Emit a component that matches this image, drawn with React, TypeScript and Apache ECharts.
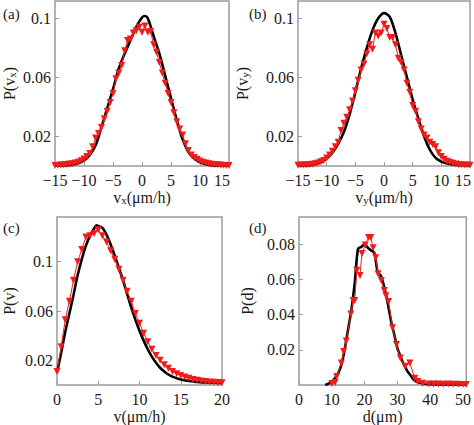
import React, { useEffect, useRef } from "react";
import * as echarts from "echarts";

// ---------- Panel (a): P(vx) ----------
const aBlackX = [-15, -14, -13, -12, -11, -10, -9, -8, -7, -6, -5, -4, -3, -2, -1, 0, 0.5, 1, 2, 3, 4, 5, 6, 7, 8, 9, 10, 11, 12, 13, 14, 15];
const aBlackY = [0.0002, 0.0003, 0.0005, 0.0008, 0.0018, 0.0038, 0.0075, 0.014, 0.026, 0.039, 0.052, 0.066, 0.076, 0.085, 0.094, 0.1005, 0.1015, 0.1, 0.088, 0.076, 0.061, 0.046, 0.031, 0.018, 0.0095, 0.005, 0.0025, 0.0012, 0.0006, 0.0004, 0.0003, 0.0002];
const aRedX = [-15, -14.5, -14, -13.5, -13, -12.5, -12, -11.5, -11, -10.5, -10, -9.5, -9, -8.5, -8, -7.5, -7, -6.5, -6, -5.5, -5, -4.5, -4, -3.5, -3, -2.5, -2, -1.5, -1, -0.5, 0, 0.5, 1, 1.5, 2, 2.5, 3, 3.5, 4, 4.5, 5, 5.5, 6, 6.5, 7, 7.5, 8, 8.5, 9, 9.5, 10, 10.5, 11, 11.5, 12, 12.5, 13, 13.5, 14, 14.5, 15];
const aRedY = [0.0004, 0.0005, 0.0006, 0.0008, 0.001, 0.0013, 0.0016, 0.002, 0.0026, 0.0035, 0.0048, 0.0065, 0.0085, 0.013, 0.019, 0.022, 0.026, 0.032, 0.037, 0.043, 0.049, 0.059, 0.063, 0.068, 0.078, 0.085, 0.086, 0.09, 0.0915, 0.094, 0.0905, 0.0948, 0.0905, 0.091, 0.082, 0.077, 0.07, 0.063, 0.056, 0.049, 0.043, 0.036, 0.03, 0.025, 0.021, 0.015, 0.0105, 0.0075, 0.0058, 0.0045, 0.0034, 0.0026, 0.002, 0.0016, 0.0012, 0.001, 0.0008, 0.0006, 0.0005, 0.0004, 0.0004];

// ---------- Panel (b): P(vy) ----------
const bBlackX = [-15, -14, -13, -12, -11, -10, -9, -8, -7, -6, -5, -4, -3, -2, -1, 0, 1, 2, 3, 4, 5, 6, 7, 8, 9, 10, 11, 12, 13, 14, 15];
const bBlackY = [0.0002, 0.0003, 0.0006, 0.0012, 0.0025, 0.005, 0.009, 0.015, 0.023, 0.035, 0.05, 0.066, 0.08, 0.092, 0.1, 0.1035, 0.101, 0.09, 0.075, 0.06, 0.045, 0.032, 0.02, 0.011, 0.0055, 0.003, 0.0017, 0.001, 0.0006, 0.0004, 0.0002];
const bRedX = aRedX;
const bRedY = [0.0005, 0.0006, 0.0007, 0.0009, 0.001, 0.0012, 0.0015, 0.002, 0.0028, 0.0038, 0.0055, 0.0075, 0.01, 0.013, 0.016, 0.024, 0.029, 0.033, 0.038, 0.044, 0.051, 0.058, 0.065, 0.069, 0.076, 0.082, 0.079, 0.09, 0.088, 0.09, 0.096, 0.093, 0.087, 0.087, 0.082, 0.073, 0.07, 0.065, 0.056, 0.05, 0.041, 0.037, 0.03, 0.025, 0.021, 0.019, 0.016, 0.0145, 0.013, 0.009, 0.0065, 0.0045, 0.0033, 0.0025, 0.0018, 0.0013, 0.001, 0.0008, 0.0007, 0.0006, 0.0005];

// ---------- Panel (c): P(v) ----------
const cBlackX = [0, 0.5, 1, 1.5, 2, 2.5, 3, 3.5, 4, 4.5, 4.8, 5, 5.5, 6, 6.5, 7, 7.5, 8, 8.5, 9, 9.5, 10, 10.5, 11, 11.5, 12, 12.5, 13, 13.5, 14, 15, 16, 17, 18, 19, 20];
const cBlackY = [0.01, 0.026, 0.043, 0.058, 0.073, 0.089, 0.102, 0.113, 0.121, 0.127, 0.1295, 0.129, 0.1275, 0.122, 0.114, 0.105, 0.095, 0.085, 0.074, 0.063, 0.053, 0.044, 0.036, 0.029, 0.023, 0.018, 0.014, 0.011, 0.0085, 0.0068, 0.0045, 0.0032, 0.0025, 0.002, 0.0018, 0.0017];
const cRedX = [0, 0.5, 1, 1.5, 2, 2.5, 3, 3.5, 4, 4.5, 5, 5.5, 6, 6.5, 7, 7.5, 8, 8.5, 9, 9.5, 10, 10.5, 11, 11.5, 12, 12.5, 13, 13.5, 14, 14.5, 15, 15.5, 16, 16.5, 17, 17.5, 18, 18.5, 19, 19.5, 20];
const cRedY = [0.011, 0.031, 0.053, 0.068, 0.085, 0.1, 0.11, 0.12, 0.121, 0.123, 0.126, 0.121, 0.116, 0.109, 0.102, 0.094, 0.085, 0.076, 0.068, 0.058, 0.05, 0.042, 0.035, 0.029, 0.024, 0.02, 0.0165, 0.0135, 0.011, 0.0092, 0.0078, 0.0065, 0.0054, 0.0045, 0.0038, 0.0033, 0.0028, 0.0025, 0.0022, 0.002, 0.0019];

// ---------- Panel (d): P(d) ----------
const dBlackX = [8, 9, 10, 11, 12, 13, 14, 15, 16, 17, 18, 19, 20, 21, 22, 23, 24, 25, 26, 27, 28, 29, 30, 31, 32, 33, 34, 35, 36, 37, 38, 39, 40, 42, 44, 46, 48, 50, 51];
const dBlackY = [0.0, 0.0008, 0.002, 0.004, 0.007, 0.012, 0.021, 0.032, 0.043, 0.058, 0.0775, 0.0785, 0.08, 0.078, 0.0765, 0.075, 0.064, 0.062, 0.0555, 0.047, 0.037, 0.029, 0.021, 0.016, 0.0115, 0.008, 0.0055, 0.003, 0.0018, 0.0012, 0.0008, 0.0005, 0.0004, 0.0003, 0.0003, 0.0003, 0.0003, 0.0003, 0.0003];
const dRedX = [10, 11, 11.5, 12.9, 13.6, 14.4, 15.8, 16.5, 17, 17.6, 18.6, 19.2, 20.2, 21.2, 21.9, 22.6, 23.4, 24.1, 25.1, 26, 26.5, 27.3, 28.5, 29.7, 30.9, 32.4, 33.8, 35.3, 36.2, 37.7, 39.6, 41, 42.5, 44, 45.5, 47, 48.5, 50, 51];
const dRedY = [0.0008, 0.0014, 0.0048, 0.0125, 0.019, 0.025, 0.0403, 0.048, 0.048, 0.0652, 0.0623, 0.0748, 0.0796, 0.0838, 0.0838, 0.078, 0.0723, 0.0633, 0.0594, 0.0537, 0.0508, 0.0474, 0.0326, 0.023, 0.0153, 0.0106, 0.0125, 0.0039, 0.002, 0.001, 0.0006, 0.0005, 0.0005, 0.0004, 0.0005, 0.0004, 0.0004, 0.0003, 0.0003];

// ---------- Tick labels ----------
const vTicks = [-15, -10, -5, 0, 5, 10, 15];
const vyTicksY = [0.02, 0.06, 0.1];
const speedTicks = [0, 5, 10, 15, 20];
const dTicks = [0, 10, 20, 30, 40, 50];
const dTicksY = [0.02, 0.04, 0.06, 0.08];

const SERIF = "Liberation Serif";
const FRAME = "#9b9b9b";
const RED = "#f01c1c";
const INK = "#1a1a1a";

const zip = (xs: number[], ys: number[]) => xs.map((x, i) => [x, ys[i]]);
const fmt = (v: number) => String(+v.toFixed(3)).replace("-", "\u2212");

const rich = {
  n: { fontFamily: SERIF, fontSize: 16, color: INK, lineHeight: 20, verticalAlign: "bottom" },
  s: { fontFamily: SERIF, fontSize: 11, color: INK, lineHeight: 20, verticalAlign: "bottom" },
};

const labelRich = {
  t: { fontFamily: SERIF, fontSize: 16, color: INK },
  shifted: { fontFamily: SERIF, fontSize: 16, color: INK, width: 30, align: "left" },
};

function xAxis(i: number, min: number, max: number, ticks: number[], name: string, shiftMax?: boolean) {
  return {
    type: "value",
    gridIndex: i,
    min,
    max,
    axisLine: { show: false, onZero: false },
    axisTick: { show: true, inside: true, length: 4, lineStyle: { color: FRAME, width: 1 }, customValues: ticks },
    axisLabel: {
      customValues: ticks,
      formatter: (v: number) => (shiftMax && v === max ? `{shifted|${fmt(v)}}` : `{t|${fmt(v)}}`),
      rich: labelRich,
      fontFamily: SERIF,
      fontSize: 16,
      color: INK,
      margin: 6,
    },
    splitLine: { show: false },
    name,
    nameLocation: "middle",
    nameGap: 19,
    nameTextStyle: { rich },
  };
}

function yAxis(i: number, max: number, ticks: number[], name: string, gap: number) {
  return {
    type: "value",
    gridIndex: i,
    min: 0,
    max,
    axisLine: { show: false, onZero: false },
    axisTick: { show: true, inside: true, length: 4, lineStyle: { color: FRAME, width: 1 }, customValues: ticks },
    axisLabel: { customValues: ticks, formatter: fmt, fontFamily: SERIF, fontSize: 16, color: INK, margin: 4 },
    splitLine: { show: false },
    name,
    nameLocation: "middle",
    nameGap: gap,
    nameTextStyle: { rich },
  };
}

function blackSeries(i: number, xs: number[], ys: number[]) {
  return {
    type: "line",
    xAxisIndex: i,
    yAxisIndex: i,
    data: zip(xs, ys),
    showSymbol: false,
    symbol: "none",
    smooth: 0.3,
    lineStyle: { color: "#000", width: 2.6 },
    z: 2,
  };
}

function redSeries(i: number, xs: number[], ys: number[]) {
  return {
    type: "line",
    xAxisIndex: i,
    yAxisIndex: i,
    data: zip(xs, ys),
    symbol: "triangle",
    symbolRotate: 180,
    symbolSize: 7,
    itemStyle: { color: RED, borderWidth: 0 },
    lineStyle: { color: RED, width: 1 },
    z: 3,
  };
}

const gridBase = { show: true, borderColor: FRAME, borderWidth: 1.5, backgroundColor: "transparent" };
const panelFont = `15px ${SERIF}`;

export default function App() {
  const ref = useRef<HTMLDivElement>(null);
  useEffect(() => {
    if (!ref.current) return;
    const chart = echarts.init(ref.current, undefined, { renderer: "svg" });
    chart.setOption({
      animation: false,
      backgroundColor: "#fff",
      textStyle: { fontFamily: SERIF },
      grid: [
        { ...gridBase, left: 53, top: 1, width: 176, height: 165 },
        { ...gridBase, left: 298, top: 1, width: 175, height: 165 },
        { ...gridBase, left: 53, top: 217, width: 169, height: 168 },
        { ...gridBase, left: 299, top: 217, width: 174, height: 168 },
      ],
      xAxis: [
        xAxis(0, -15, 15, vTicks, "{n|v}{s|x}{n|(\u03bcm/h)}", true),
        xAxis(1, -15, 15, vTicks, "{n|v}{s|y}{n|(\u03bcm/h)}", true),
        xAxis(2, 0, 20, speedTicks, "{n|v(\u03bcm/h)}"),
        xAxis(3, 0, 51, dTicks, "{n|d(\u03bcm)}"),
      ],
      yAxis: [
        yAxis(0, 0.1117, vyTicksY, "{n|P(v}{s|x}{n|)}", 38),
        yAxis(1, 0.1117, vyTicksY, "{n|P(v}{s|y}{n|)}", 48),
        yAxis(2, 0.1363, vyTicksY, "{n|P(v)}", 40),
        yAxis(3, 0.0955, dTicksY, "{n|P(d)}", 44),
      ],
      series: [
        blackSeries(0, aBlackX, aBlackY),
        redSeries(0, aRedX, aRedY),
        blackSeries(1, bBlackX, bBlackY),
        redSeries(1, bRedX, bRedY),
        blackSeries(2, cBlackX, cBlackY),
        redSeries(2, cRedX, cRedY),
        blackSeries(3, dBlackX, dBlackY),
        redSeries(3, dRedX, dRedY),
      ],
      graphic: [
        { type: "text", left: 3, top: 6, style: { text: "(a)", font: panelFont, fill: INK } },
        { type: "text", left: 249, top: 6, style: { text: "(b)", font: panelFont, fill: INK } },
        { type: "text", left: 3, top: 220, style: { text: "(c)", font: panelFont, fill: INK } },
        { type: "text", left: 249, top: 220, style: { text: "(d)", font: panelFont, fill: INK } },
      ],
    });
    return () => chart.dispose();
  }, []);
  return <div ref={ref} style={{ position: "absolute", left: 0, top: 0, width: 474, height: 425 }} />;
}
